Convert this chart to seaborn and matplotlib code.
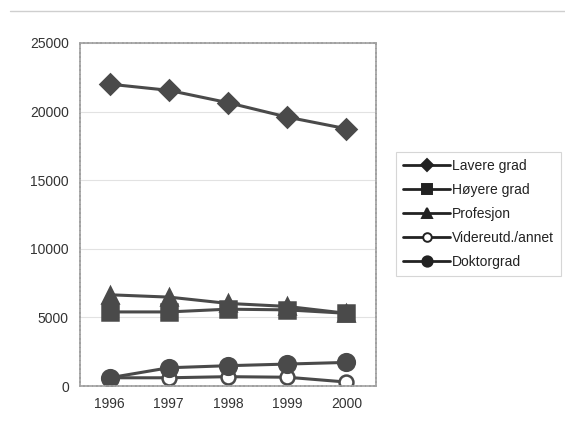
import matplotlib
matplotlib.use("Agg")
import matplotlib.pyplot as plt
from matplotlib.lines import Line2D
import seaborn as sns
import pandas as pd

years = [1996, 1997, 1998, 1999, 2000]
lavere_grad = [22000, 21550, 20650, 19600, 18750]
hoyere_grad = [5400, 5400, 5600, 5550, 5300]
profesjon = [6650, 6480, 6020, 5800, 5300]
videreutd_annet = [600, 600, 680, 640, 290]
doktorgrad = [600, 1330, 1480, 1600, 1720]

series = {
    "Lavere grad": lavere_grad,
    "Høyere grad": hoyere_grad,
    "Profesjon": profesjon,
    "Videreutd./annet": videreutd_annet,
    "Doktorgrad": doktorgrad,
}
df = pd.DataFrame(
    [(y, name, v) for name, vals in series.items() for y, v in zip(years, vals)],
    columns=["År", "Gruppe", "Antall"],
)

sns.set_theme(style="white")
plt.rcParams["font.family"] = ["Liberation Sans", "DejaVu Sans"]

line_col = "#4a4a4a"
styles = {
    "Lavere grad": dict(marker="D", ms=10, mfc=line_col),
    "Høyere grad": dict(marker="s", ms=11, mfc=line_col),
    "Profesjon": dict(marker="^", ms=11, mfc=line_col),
    "Videreutd./annet": dict(marker="o", ms=10, mfc="white"),
    "Doktorgrad": dict(marker="o", ms=12, mfc=line_col),
}

fig = plt.figure(figsize=(5.65, 4.3), dpi=100)
ax = fig.add_axes([0.1416, 0.1023, 0.5239, 0.7977])

handles = []
for name in series:
    st = styles[name]
    sub = df[df["Gruppe"] == name]
    sns.lineplot(data=sub, x="År", y="Antall", ax=ax, color=line_col,
                 linewidth=2.2, marker=st["marker"], markersize=st["ms"],
                 markerfacecolor=st["mfc"], markeredgecolor=line_col,
                 markeredgewidth=1.8, legend=False)
    handles.append(Line2D([], [], color="#222222", linewidth=2.0,
                          marker=st["marker"], markersize=st["ms"] * 0.62,
                          markerfacecolor="#222222" if st["mfc"] != "white" else "white",
                          markeredgecolor="#222222", markeredgewidth=1.4,
                          label=name))

ax.set_xlim(1995.5, 2000.5)
ax.set_ylim(0, 25000)
ax.set_xticks(years)
ax.set_xticklabels([str(y) for y in years])
ax.set_yticks([0, 5000, 10000, 15000, 20000, 25000])
ax.set_yticklabels(["0", "5000", "10000", "15000", "20000", "25000"])
ax.tick_params(axis="both", labelsize=10, colors="#333333", length=0, pad=8)
ax.set_xlabel("")
ax.set_ylabel("")
ax.yaxis.grid(True, color="#e2e2e2", linewidth=0.8)
ax.set_axisbelow(True)
for sp in ax.spines.values():
    sp.set_color("#a0a0a0")
    sp.set_linewidth(1.2)
    sp.set_linestyle((0, (2, 0.6)))

leg = fig.legend(handles=handles, loc="upper left",
                 bbox_to_anchor=(0.701, 0.647), borderaxespad=0.0,
                 frameon=True, fontsize=10, handlelength=3.4,
                 handletextpad=0.1, labelspacing=0.72, borderpad=0.5,
                 fancybox=False)
leg.get_frame().set_edgecolor("#cccccc")
leg.get_frame().set_linewidth(0.8)
for t in leg.get_texts():
    t.set_color("#222222")

fig.add_artist(Line2D([0.018, 1.0], [0.975, 0.975], color="#cfcfcf",
                      linewidth=1.0, transform=fig.transFigure))

fig.savefig("out.png", dpi=100, facecolor="white")
